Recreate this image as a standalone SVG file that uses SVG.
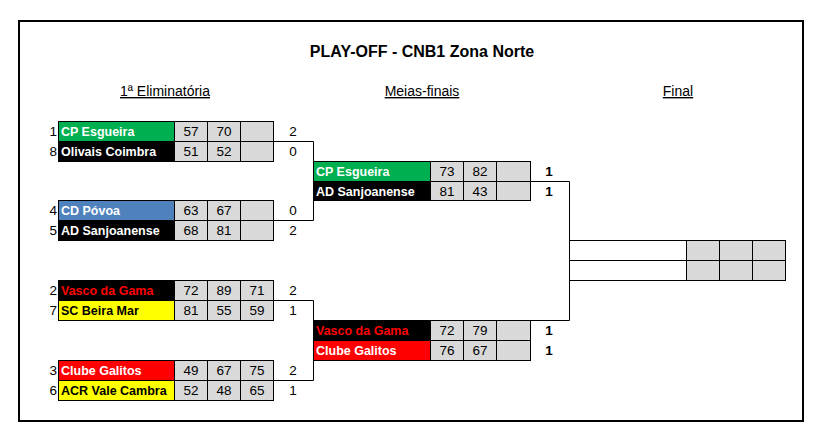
<svg xmlns="http://www.w3.org/2000/svg" width="824" height="436" viewBox="0 0 824 436">
<style>
.frame{fill:none;stroke:#000;stroke-width:2}
.cell{stroke:#000;stroke-width:1}
.sc{fill:#d9d9d9;stroke:#000;stroke-width:1}
.wh{fill:#fff;stroke:#000;stroke-width:1}
.g{fill:#00b050}.k{fill:#000}.b{fill:#4f81bd}.r{fill:#ff0000}.y{fill:#ffff00}
.nm{font-family:"Liberation Sans",Arial,sans-serif;font-weight:bold;font-size:12.5px}
.tw{fill:#fff}.tr{fill:#ff0000}.tk{fill:#000}
.num{font-family:"Liberation Sans",Arial,sans-serif;font-size:13.5px;fill:#000;text-anchor:middle}
.seed{font-family:"Liberation Sans",Arial,sans-serif;font-size:13.5px;fill:#000;text-anchor:end}
.res{font-family:"Liberation Sans",Arial,sans-serif;font-size:13.5px;fill:#000;text-anchor:middle}
.resb{font-family:"Liberation Sans",Arial,sans-serif;font-size:13.5px;font-weight:bold;fill:#000;text-anchor:middle}
.title{font-family:"Liberation Sans",Arial,sans-serif;font-size:16px;font-weight:bold;fill:#000;text-anchor:middle}
.hd{font-family:"Liberation Sans",Arial,sans-serif;font-size:14px;fill:#000;text-anchor:middle;text-decoration:underline}
.conn{fill:none;stroke:#000;stroke-width:1}
</style>
<rect class="frame" x="19" y="21" width="784" height="400"/>
<text class="title" x="422" y="57">PLAY-OFF - CNB1 Zona Norte</text>
<text class="hd" x="165" y="96">1ª Eliminatória</text>
<text class="hd" x="422" y="96">Meias-finais</text>
<text class="hd" x="678" y="96">Final</text>

<g id="connectors">
<path class="conn" d="M273.5,141.5 H313.5 V220.5 H273.5"/>
<path class="conn" d="M273.5,300.5 H313.5 V380.5 H273.5"/>
<path class="conn" d="M530.5,181.5 H569.5 V240.5"/>
<path class="conn" d="M313.5,320.5 H569.5 V280.5"/>
</g>

<!-- First round -->
<g id="r1-cp-esgueira">
<text class="seed" x="57" y="136">1</text>
<rect class="cell g" x="58.5" y="121.5" width="116" height="20"/>
<text class="nm tw" x="61" y="136">CP Esgueira</text>
<rect class="sc" x="174.5" y="121.5" width="33" height="20"/>
<rect class="sc" x="207.5" y="121.5" width="33" height="20"/>
<rect class="sc" x="240.5" y="121.5" width="33" height="20"/>
<text class="num" x="191" y="136">57</text>
<text class="num" x="224" y="136">70</text>
<text class="res" x="293" y="136">2</text>
</g>
<g id="r1-olivais-coimbra">
<text class="seed" x="57" y="156">8</text>
<rect class="cell k" x="58.5" y="141.5" width="116" height="20"/>
<text class="nm tw" x="61" y="156">Olivais Coimbra</text>
<rect class="sc" x="174.5" y="141.5" width="33" height="20"/>
<rect class="sc" x="207.5" y="141.5" width="33" height="20"/>
<rect class="sc" x="240.5" y="141.5" width="33" height="20"/>
<text class="num" x="191" y="156">51</text>
<text class="num" x="224" y="156">52</text>
<text class="res" x="293" y="156">0</text>
</g>
<g id="r1-cd-povoa">
<text class="seed" x="57" y="215">4</text>
<rect class="cell b" x="58.5" y="200.5" width="116" height="20"/>
<text class="nm tw" x="61" y="215">CD Póvoa</text>
<rect class="sc" x="174.5" y="200.5" width="33" height="20"/>
<rect class="sc" x="207.5" y="200.5" width="33" height="20"/>
<rect class="sc" x="240.5" y="200.5" width="33" height="20"/>
<text class="num" x="191" y="215">63</text>
<text class="num" x="224" y="215">67</text>
<text class="res" x="293" y="215">0</text>
</g>
<g id="r1-ad-sanjoanense">
<text class="seed" x="57" y="235">5</text>
<rect class="cell k" x="58.5" y="220.5" width="116" height="20"/>
<text class="nm tw" x="61" y="235">AD Sanjoanense</text>
<rect class="sc" x="174.5" y="220.5" width="33" height="20"/>
<rect class="sc" x="207.5" y="220.5" width="33" height="20"/>
<rect class="sc" x="240.5" y="220.5" width="33" height="20"/>
<text class="num" x="191" y="235">68</text>
<text class="num" x="224" y="235">81</text>
<text class="res" x="293" y="235">2</text>
</g>
<g id="r1-vasco-da-gama">
<text class="seed" x="57" y="295">2</text>
<rect class="cell k" x="58.5" y="280.5" width="116" height="20"/>
<text class="nm tr" x="61" y="295">Vasco da Gama</text>
<rect class="sc" x="174.5" y="280.5" width="33" height="20"/>
<rect class="sc" x="207.5" y="280.5" width="33" height="20"/>
<rect class="sc" x="240.5" y="280.5" width="33" height="20"/>
<text class="num" x="191" y="295">72</text>
<text class="num" x="224" y="295">89</text>
<text class="num" x="257" y="295">71</text>
<text class="res" x="293" y="295">2</text>
</g>
<g id="r1-sc-beira-mar">
<text class="seed" x="57" y="315">7</text>
<rect class="cell y" x="58.5" y="300.5" width="116" height="20"/>
<text class="nm tk" x="61" y="315">SC Beira Mar</text>
<rect class="sc" x="174.5" y="300.5" width="33" height="20"/>
<rect class="sc" x="207.5" y="300.5" width="33" height="20"/>
<rect class="sc" x="240.5" y="300.5" width="33" height="20"/>
<text class="num" x="191" y="315">81</text>
<text class="num" x="224" y="315">55</text>
<text class="num" x="257" y="315">59</text>
<text class="res" x="293" y="315">1</text>
</g>
<g id="r1-clube-galitos">
<text class="seed" x="57" y="375">3</text>
<rect class="cell r" x="58.5" y="360.5" width="116" height="20"/>
<text class="nm tw" x="61" y="375">Clube Galitos</text>
<rect class="sc" x="174.5" y="360.5" width="33" height="20"/>
<rect class="sc" x="207.5" y="360.5" width="33" height="20"/>
<rect class="sc" x="240.5" y="360.5" width="33" height="20"/>
<text class="num" x="191" y="375">49</text>
<text class="num" x="224" y="375">67</text>
<text class="num" x="257" y="375">75</text>
<text class="res" x="293" y="375">2</text>
</g>
<g id="r1-acr-vale-cambra">
<text class="seed" x="57" y="395">6</text>
<rect class="cell y" x="58.5" y="380.5" width="116" height="20"/>
<text class="nm tk" x="61" y="395">ACR Vale Cambra</text>
<rect class="sc" x="174.5" y="380.5" width="33" height="20"/>
<rect class="sc" x="207.5" y="380.5" width="33" height="20"/>
<rect class="sc" x="240.5" y="380.5" width="33" height="20"/>
<text class="num" x="191" y="395">52</text>
<text class="num" x="224" y="395">48</text>
<text class="num" x="257" y="395">65</text>
<text class="res" x="293" y="395">1</text>
</g>

<!-- Semi-finals -->
<g id="sf-cp-esgueira">
<rect class="cell g" x="313.5" y="161.5" width="117" height="20"/>
<text class="nm tw" x="316" y="176">CP Esgueira</text>
<rect class="sc" x="430.5" y="161.5" width="33" height="20"/>
<rect class="sc" x="463.5" y="161.5" width="33" height="20"/>
<rect class="sc" x="496.5" y="161.5" width="34" height="20"/>
<text class="num" x="447" y="176">73</text>
<text class="num" x="480" y="176">82</text>
<text class="resb" x="549" y="176">1</text>
</g>
<g id="sf-ad-sanjoanense">
<rect class="cell k" x="313.5" y="181.5" width="117" height="19"/>
<text class="nm tw" x="316" y="196">AD Sanjoanense</text>
<rect class="sc" x="430.5" y="181.5" width="33" height="19"/>
<rect class="sc" x="463.5" y="181.5" width="33" height="19"/>
<rect class="sc" x="496.5" y="181.5" width="34" height="19"/>
<text class="num" x="447" y="196">81</text>
<text class="num" x="480" y="196">43</text>
<text class="resb" x="549" y="196">1</text>
</g>
<g id="sf-vasco-da-gama">
<rect class="cell k" x="313.5" y="320.5" width="117" height="20"/>
<text class="nm tr" x="316" y="335">Vasco da Gama</text>
<rect class="sc" x="430.5" y="320.5" width="33" height="20"/>
<rect class="sc" x="463.5" y="320.5" width="33" height="20"/>
<rect class="sc" x="496.5" y="320.5" width="34" height="20"/>
<text class="num" x="447" y="335">72</text>
<text class="num" x="480" y="335">79</text>
<text class="resb" x="549" y="335">1</text>
</g>
<g id="sf-clube-galitos">
<rect class="cell r" x="313.5" y="340.5" width="117" height="20"/>
<text class="nm tw" x="316" y="355">Clube Galitos</text>
<rect class="sc" x="430.5" y="340.5" width="33" height="20"/>
<rect class="sc" x="463.5" y="340.5" width="33" height="20"/>
<rect class="sc" x="496.5" y="340.5" width="34" height="20"/>
<text class="num" x="447" y="355">76</text>
<text class="num" x="480" y="355">67</text>
<text class="resb" x="549" y="355">1</text>
</g>

<!-- Final -->
<g id="final-1">
<rect class="wh" x="569.5" y="240.5" width="117" height="20"/>
<rect class="sc" x="686.5" y="240.5" width="33" height="20"/>
<rect class="sc" x="719.5" y="240.5" width="33" height="20"/>
<rect class="sc" x="752.5" y="240.5" width="33" height="20"/>
</g>
<g id="final-2">
<rect class="wh" x="569.5" y="260.5" width="117" height="20"/>
<rect class="sc" x="686.5" y="260.5" width="33" height="20"/>
<rect class="sc" x="719.5" y="260.5" width="33" height="20"/>
<rect class="sc" x="752.5" y="260.5" width="33" height="20"/>
</g>
</svg>
